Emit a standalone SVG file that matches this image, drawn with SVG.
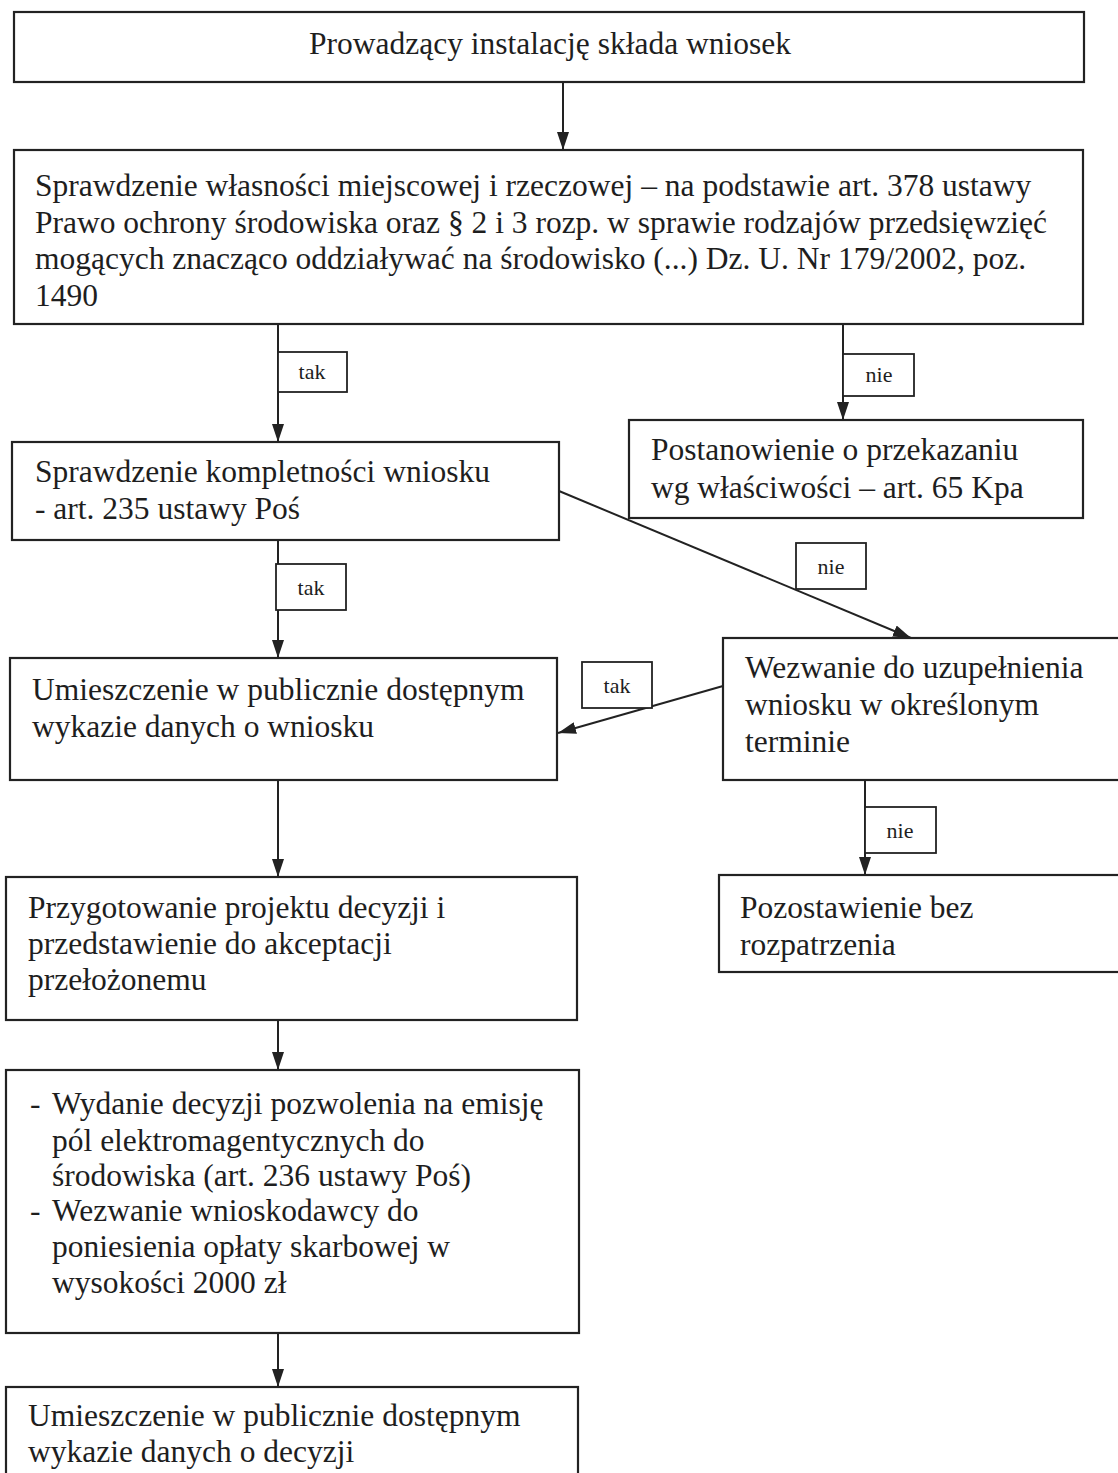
<svg xmlns="http://www.w3.org/2000/svg" width="1118" height="1473" viewBox="0 0 1118 1473">
<style>
.box{fill:#fff;stroke:#222;stroke-width:2.2}
.lbl{fill:#fff;stroke:#222;stroke-width:1.8}
.t{font-family:"Liberation Serif","Times New Roman",serif;font-size:31.5px;fill:#1e1e1e}
.s{font-family:"Liberation Serif","Times New Roman",serif;font-size:22px;fill:#1e1e1e;text-anchor:middle}
.c{stroke:#222;stroke-width:2;fill:none;marker-end:url(#ah)}
</style>
<defs>
<marker id="ah" viewBox="0 0 18 12" refX="18" refY="6" markerWidth="18" markerHeight="12" markerUnits="userSpaceOnUse" orient="auto">
<path d="M0,0 L18,6 L0,12 Z" fill="#222"/>
</marker>
</defs>
<rect width="1118" height="1473" fill="#fff"/>
<g id="connectors">
<line class="c" x1="563" y1="82" x2="563" y2="150"/>
<line class="c" x1="278" y1="324" x2="278" y2="442"/>
<line class="c" x1="843" y1="324" x2="843" y2="420"/>
<line class="c" x1="559" y1="491" x2="911" y2="638"/>
<line class="c" x1="278" y1="540" x2="278" y2="658"/>
<line class="c" x1="723" y1="686" x2="558" y2="733"/>
<line class="c" x1="865" y1="780" x2="865" y2="875"/>
<line class="c" x1="278" y1="780" x2="278" y2="877"/>
<line class="c" x1="278" y1="1020" x2="278" y2="1070"/>
<line class="c" x1="278" y1="1333" x2="278" y2="1387"/>
<g id="lbl-tak1"><rect class="lbl" x="278" y="352" width="69" height="40"/><text class="s" x="312" y="379">tak</text></g>
<g id="lbl-nie1"><rect class="lbl" x="843" y="354" width="71" height="42"/><text class="s" x="879" y="382">nie</text></g>
<g id="lbl-nie2"><rect class="lbl" x="796" y="543" width="70" height="46"/><text class="s" x="831" y="574">nie</text></g>
<g id="lbl-tak2"><rect class="lbl" x="276" y="564" width="70" height="46"/><text class="s" x="311" y="595">tak</text></g>
<g id="lbl-tak3"><rect class="lbl" x="582" y="662" width="70" height="46"/><text class="s" x="617" y="693">tak</text></g>
<g id="lbl-nie3"><rect class="lbl" x="865" y="807" width="71" height="46"/><text class="s" x="900" y="838">nie</text></g>
</g>
<g id="n1"><rect class="box" x="14" y="12" width="1070" height="70"/><text class="t" x="550" y="54" text-anchor="middle">Prowadzący instalację składa wniosek</text></g>
<g id="n2"><rect class="box" x="14" y="150" width="1069" height="174"/>
<text class="t" x="35" y="196">Sprawdzenie własności miejscowej i rzeczowej – na podstawie art. 378 ustawy</text>
<text class="t" x="35" y="233">Prawo ochrony środowiska oraz § 2 i 3 rozp. w sprawie rodzajów przedsięwzięć</text>
<text class="t" x="35" y="269">mogących znacząco oddziaływać na środowisko (...) Dz. U. Nr 179/2002, poz.</text>
<text class="t" x="35" y="306">1490</text></g>
<g id="n3"><rect class="box" x="12" y="442" width="547" height="98"/>
<text class="t" x="35" y="482">Sprawdzenie kompletności wniosku</text>
<text class="t" x="35" y="519">- art. 235 ustawy Poś</text></g>
<g id="n4"><rect class="box" x="629" y="420" width="454" height="98"/>
<text class="t" x="651" y="460">Postanowienie o przekazaniu</text>
<text class="t" x="651" y="498">wg właściwości – art. 65 Kpa</text></g>
<g id="n5"><rect class="box" x="10" y="658" width="547" height="122"/>
<text class="t" x="32" y="700">Umieszczenie w publicznie dostępnym</text>
<text class="t" x="32" y="737">wykazie danych o wniosku</text></g>
<g id="n6"><rect class="box" x="723" y="638" width="410" height="142"/>
<text class="t" x="745" y="678">Wezwanie do uzupełnienia</text>
<text class="t" x="745" y="715">wniosku w określonym</text>
<text class="t" x="745" y="752">terminie</text></g>
<g id="n7"><rect class="box" x="719" y="875" width="414" height="97"/>
<text class="t" x="740" y="918">Pozostawienie bez</text>
<text class="t" x="740" y="955">rozpatrzenia</text></g>
<g id="n8"><rect class="box" x="6" y="877" width="571" height="143"/>
<text class="t" x="28" y="918">Przygotowanie projektu decyzji i</text>
<text class="t" x="28" y="954">przedstawienie do akceptacji</text>
<text class="t" x="28" y="990">przełożonemu</text></g>
<g id="n9"><rect class="box" x="6" y="1070" width="573" height="263"/>
<text class="t" x="30" y="1114">-</text><text class="t" x="52" y="1114">Wydanie decyzji pozwolenia na emisję</text>
<text class="t" x="52" y="1151">pól elektromagentycznych do</text>
<text class="t" x="52" y="1186">środowiska (art. 236 ustawy Poś)</text>
<text class="t" x="30" y="1221">-</text><text class="t" x="52" y="1221">Wezwanie wnioskodawcy do</text>
<text class="t" x="52" y="1257">poniesienia opłaty skarbowej w</text>
<text class="t" x="52" y="1293">wysokości 2000 zł</text></g>
<g id="n10"><rect class="box" x="6" y="1387" width="572" height="100"/>
<text class="t" x="28" y="1426">Umieszczenie w publicznie dostępnym</text>
<text class="t" x="28" y="1462">wykazie danych o decyzji</text></g>
</svg>
